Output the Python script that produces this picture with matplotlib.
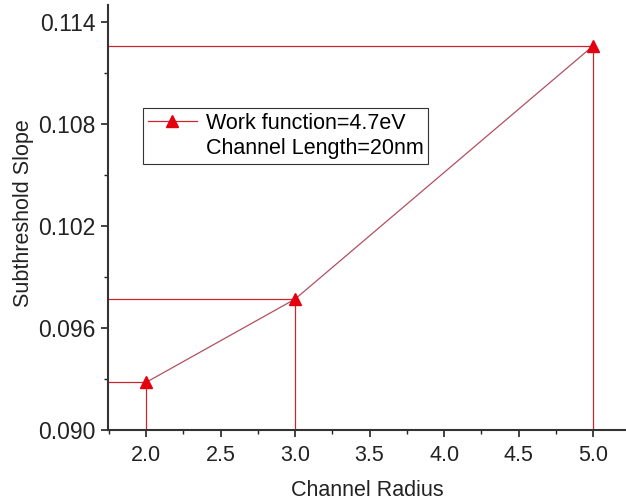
import matplotlib
matplotlib.use("Agg")
import matplotlib.pyplot as plt
from matplotlib.lines import Line2D
from matplotlib.ticker import MultipleLocator

plt.rcParams['font.family'] = ['Liberation Sans', 'DejaVu Sans']

# data
radius = [2.0, 3.0, 5.0]
slope = [0.0928, 0.0977, 0.1126]
legend_labels = ["Work function=4.7eV", "Channel Length=20nm"]

fig = plt.figure(figsize=(6.26, 5.03), dpi=100)
ax = fig.add_axes([0.1725, 0.1451, 0.8275, 0.845])

ax.set_xlim(1.745, 5.22)
ax.set_ylim(0.090, 0.115)

# guide lines from each point to the axes
for x, y in zip(radius, slope):
    ax.plot([ax.get_xlim()[0], x], [y, y], color="#c8282d", lw=0.9, zorder=2)
    ax.plot([x, x], [0.090, y], color="#c8282d", lw=0.9, zorder=2)

ax.plot(radius, slope, color="#b05060", lw=0.9, zorder=3)
ax.plot(radius, slope, ls="none", marker="^", ms=9, color="#e3000f", zorder=4)

h1 = Line2D([], [], color="#c8282d", lw=0.9, marker="^", ms=8,
            markerfacecolor="#e3000f", markeredgecolor="#e3000f")
h2 = Line2D([], [], color="none")
leg = ax.legend([h1, h2], legend_labels, loc="upper left",
                bbox_to_anchor=(0.0676, 0.758), fontsize=15.5, frameon=True,
                fancybox=False, edgecolor="#333333", framealpha=1,
                handlelength=2.3, handletextpad=0.4, borderpad=0.22,
                labelspacing=0.2, borderaxespad=0)
leg.get_frame().set_linewidth(0.8)

ax.set_xticks([2.0, 2.5, 3.0, 3.5, 4.0, 4.5, 5.0])
ax.set_yticks([0.090, 0.096, 0.102, 0.108, 0.114])
ax.set_yticklabels(["0.090", "0.096", "0.102", "0.108", "0.114"])
ax.xaxis.set_minor_locator(MultipleLocator(0.25))
ax.yaxis.set_minor_locator(MultipleLocator(0.003))

ax.tick_params(which="major", direction="out", length=5, width=1.2,
               colors="#222222", pad=4)
ax.tick_params(axis="y", labelsize=16.5)
ax.tick_params(axis="x", labelsize=15.5, pad=6)
ax.tick_params(which="minor", direction="out", length=3, width=1.0,
               colors="#222222")

for s in ["top", "right"]:
    ax.spines[s].set_visible(False)
for s in ["left", "bottom"]:
    ax.spines[s].set_linewidth(1.5)
    ax.spines[s].set_color("#333333")

ax.set_xlabel("Channel Radius", fontsize=15.5, color="#222222", labelpad=10)
ax.set_ylabel("Subthreshold Slope", fontsize=15.5, color="#222222")
ax.yaxis.set_label_coords(-0.143, 0.51)

fig.savefig("out.png", dpi=100)
